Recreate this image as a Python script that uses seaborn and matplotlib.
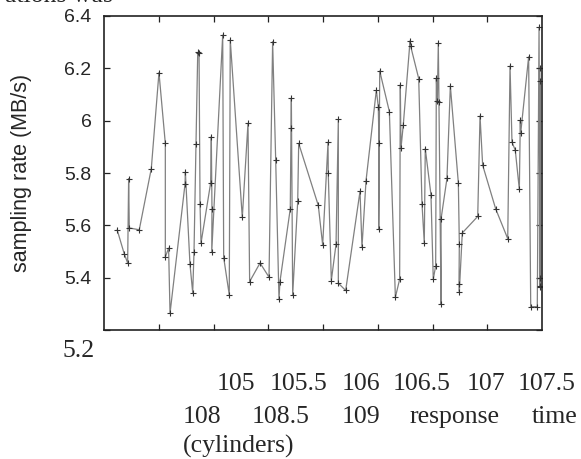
import numpy as np
import pandas as pd
import seaborn as sns
from matplotlib import pyplot as plt

# response time (cylinders) vs sampling rate (MB/s)
resp_time = [105.12, 105.185, 105.216, 105.225, 105.231, 105.322, 105.432, 105.502,
             105.56, 105.56, 105.59, 105.603, 105.74, 105.743, 105.785, 105.81,
             105.822, 105.84, 105.856, 105.868, 105.877, 105.886, 105.974, 105.98,
             105.986, 105.984, 106.084, 106.093, 106.144, 106.153, 106.263, 106.315,
             106.33, 106.425, 106.507, 106.54, 106.568, 106.598, 106.607, 106.701,
             106.708, 106.711, 106.723, 106.769, 106.778, 106.957, 106.997, 107.046,
             107.048, 107.076, 107.119, 107.14, 107.14, 107.207, 107.338, 107.356,
             107.393, 107.487, 107.505, 107.511, 107.509, 107.518, 107.606, 107.661,
             107.7, 107.706, 107.712, 107.733, 107.795, 107.801, 107.874, 107.904,
             107.925, 107.934, 107.986, 108.007, 108.029, 108.035, 108.044, 108.053,
             108.059, 108.078, 108.078, 108.132, 108.163, 108.236, 108.245, 108.242,
             108.245, 108.272, 108.413, 108.434, 108.458, 108.577, 108.687, 108.708,
             108.726, 108.756, 108.793, 108.802, 108.805, 108.878, 108.897, 108.957,
             108.973, 108.982, 108.978, 108.986, 108.98, 108.984]
sampling_rate = [5.583, 5.491, 5.456, 5.778, 5.59, 5.583, 5.817, 6.184,
                 5.913, 5.479, 5.513, 5.264, 5.758, 5.804, 5.452, 5.343,
                 5.498, 5.909, 6.261, 6.257, 5.682, 5.532, 5.762, 5.939,
                 5.663, 5.499, 6.327, 5.477, 5.334, 6.309, 5.63, 5.99,
                 5.385, 5.456, 5.402, 6.302, 5.849, 5.318, 5.385, 5.663,
                 5.973, 6.087, 5.333, 5.692, 5.913, 5.676, 5.525, 5.918,
                 5.8, 5.389, 5.528, 6.005, 5.379, 5.351, 5.73, 5.517,
                 5.771, 6.116, 6.054, 5.913, 5.586, 6.19, 6.035, 5.325,
                 5.394, 6.137, 5.894, 5.983, 6.305, 6.284, 6.161, 5.683,
                 5.532, 5.893, 5.717, 5.394, 5.445, 6.162, 6.075, 6.297,
                 6.071, 5.3, 5.624, 5.779, 6.133, 5.762, 5.53, 5.376,
                 5.347, 5.571, 5.634, 6.018, 5.83, 5.663, 5.549, 6.209,
                 5.918, 5.887, 5.737, 6.002, 5.951, 6.244, 5.289, 5.289,
                 6.357, 5.366, 6.2, 5.4, 6.15, 5.37]

y_ticks = [5.2, 5.4, 5.6, 5.8, 6.0, 6.2, 6.4]
y_tick_labels = ['', '5.4', '5.6', '5.8', '6', '6.2', '6.4']
x_ticks = [105.5, 106, 106.5, 107, 107.5, 108, 108.5]
# x tick labels ended up as running text under the plot
line1_words = ['105', '105.5', '106', '106.5', '107', '107.5']
line2_words = ['108', '108.5', '109', 'response', 'time']
line3_words = ['(cylinders)']

W, H = 581, 459
sns.set_style('white')
plt.rcParams['font.family'] = ['Liberation Sans', 'DejaVu Sans']

fig = plt.figure(figsize=(W / 100, H / 100), dpi=100)
ax = fig.add_axes([104 / W, 1 - 330 / H, 438 / W, 314 / H])

df = pd.DataFrame({'t': resp_time, 'r': sampling_rate})
sns.lineplot(data=df, x='t', y='r', sort=False, estimator=None, ax=ax,
             color='#808080', linewidth=0.9, marker='+', markersize=5,
             markeredgecolor='#333333', markeredgewidth=0.8)

ax.set_xlim(105, 109)
ax.set_ylim(5.2, 6.4)
ax.set_xticks(x_ticks)
ax.set_xticklabels([])
ax.set_yticks(y_ticks)
ax.set_yticklabels(y_tick_labels, fontsize=14)
ax.tick_params(direction='in', length=4, width=0.9, color='#222222',
               top=True, right=True, bottom=True, left=True, pad=9)
for s in ax.spines.values():
    s.set_visible(True)
    s.set_color('#222222')
    s.set_linewidth(1.2)
ax.set_xlabel('')
ax.set_ylabel('sampling rate (MB/s)', fontsize=15.5)
ax.yaxis.set_label_coords(-0.165, 0.5)


def ftext(px, py, s):
    fig.text(px / W, 1 - py / H, s, fontsize=18.5, family='Liberation Serif',
             ha='left', va='baseline')


ftext(62, 357, '5.2')
for px, w in zip([217, 270, 342, 393, 467, 518], line1_words):
    ftext(px, 390, w)
for px, w in zip([183, 252, 342, 410, 532], line2_words):
    ftext(px, 423, w)
ftext(183, 453, line3_words[0])
fig.text(113 / W, 1 - 2 / H, 'ations was', fontsize=18.5, family='Liberation Serif',
         ha='right', va='baseline')

fig.savefig('out.png', dpi=100)
